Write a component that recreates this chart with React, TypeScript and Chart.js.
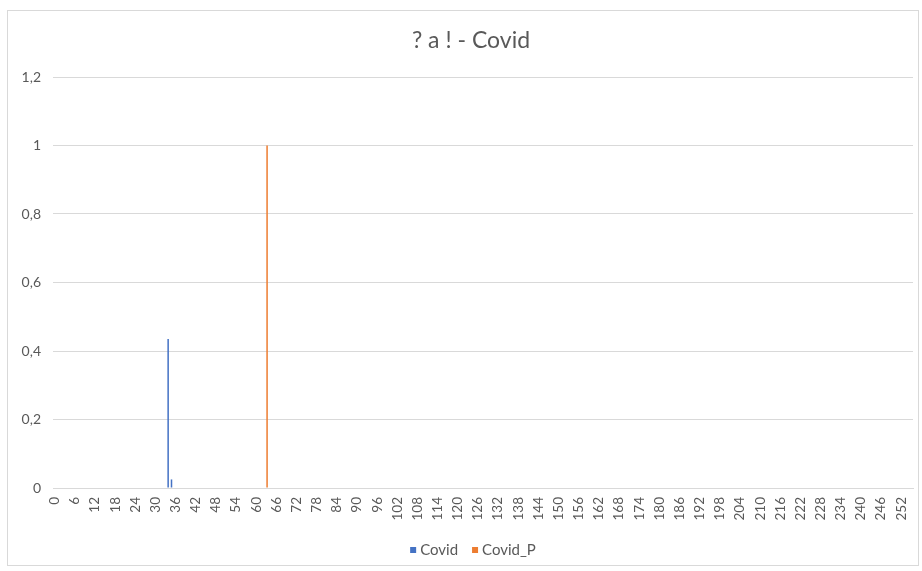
import React, { useEffect, useRef } from "react";
import { Chart, registerables } from "chart.js";

Chart.register(...registerables);

// Day index categories 0..255
const CATEGORY_COUNT = 256;
const categories: string[] = Array.from({ length: CATEGORY_COUNT }, (_, i) => String(i));

// Non-zero observations: [category index, value]
const covidPoints: [number, number][] = [
  [34, 0.435],
  [35, 0.025],
];
const covidPPoints: [number, number][] = [[63, 1]];

const yTicks = [0, 0.2, 0.4, 0.6, 0.8, 1, 1.2];
const labelStep = 6;

const titleText = "? a ! - Covid";
const seriesNames = ["Covid", "Covid_P"];
const seriesColors = ["#4472C4", "#ED7D31"];

function toSeries(points: [number, number][]): (number | null)[] {
  const out: (number | null)[] = categories.map(() => null);
  points.forEach(([i, v]) => {
    out[i] = v;
  });
  return out;
}

const FONT = "Lato, 'Open Sans', sans-serif";
const TEXT = "#595959";
const GRID = "#D9D9D9";

// Title and legend laid out over the plot area, Office style
const officeDecor = {
  id: "officeDecor",
  afterDraw(chart: any) {
    const { ctx } = chart;
    ctx.save();
    ctx.fillStyle = TEXT;
    ctx.font = `23px ${FONT}`;
    ctx.textAlign = "center";
    ctx.textBaseline = "alphabetic";
    ctx.fillText(titleText, 471, 48);

    // legend row
    ctx.font = `15px ${FONT}`;
    ctx.textBaseline = "middle";
    ctx.textAlign = "left";
    const box = 6;
    const gap = 4;
    const itemGap = 14;
    const items = chart.data.datasets.map((d: any) => ({
      label: d.label as string,
      color: d.backgroundColor as string,
      w: box + gap + ctx.measureText(d.label).width,
    }));
    const total = items.reduce((s: number, it: any) => s + it.w, 0) + itemGap * (items.length - 1);
    let x = 473 - total / 2;
    const y = 550;
    items.forEach((it: any) => {
      ctx.fillStyle = it.color;
      ctx.fillRect(x, y - box / 2, box, box);
      ctx.fillStyle = TEXT;
      ctx.fillText(it.label, x + box + gap, y);
      x += it.w + itemGap;
    });
    ctx.restore();
  },
};

export default function App() {
  const ref = useRef<HTMLCanvasElement | null>(null);

  useEffect(() => {
    if (!ref.current) return;
    const chart = new Chart(ref.current, {
      type: "bar",
      data: {
        labels: categories,
        datasets: [
          {
            label: seriesNames[0],
            data: toSeries(covidPoints),
            backgroundColor: seriesColors[0],
            borderWidth: 0,
            barPercentage: 1,
            categoryPercentage: 0.9,
          },
          {
            label: seriesNames[1],
            data: toSeries(covidPPoints),
            backgroundColor: seriesColors[1],
            borderWidth: 0,
            barPercentage: 1,
            categoryPercentage: 0.9,
          },
        ],
      },
      plugins: [officeDecor],
      options: {
        animation: false,
        responsive: false,
        maintainAspectRatio: false,
        layout: { padding: { left: 0, right: 9, top: 77, bottom: 48 } },
        plugins: {
          title: { display: false },
          legend: { display: false },
          tooltip: { enabled: false },
        },
        scales: {
          x: {
            afterFit: (scale: any) => {
              scale.height = 35;
              scale.paddingLeft = 0;
              scale.paddingRight = 0;
            },
            grid: { display: false, drawTicks: false },
            border: { display: true, color: GRID, width: 1 },
            ticks: {
              autoSkip: false,
              maxRotation: 90,
              minRotation: 90,
              padding: 9,
              color: TEXT,
              font: { family: FONT, size: 13.5 },
              callback: (_v: any, idx: number) => (idx % labelStep === 0 ? categories[idx] : ""),
            },
          },
          y: {
            min: 0,
            max: 1.2,
            afterFit: (scale: any) => {
              scale.width = 53;
            },
            afterBuildTicks: (scale: any) => {
              scale.ticks = yTicks.map((v) => ({ value: v }));
            },
            grid: { color: GRID, drawTicks: false, lineWidth: 1 },
            border: { display: false },
            ticks: {
              padding: 12,
              color: TEXT,
              font: { family: FONT, size: 14 },
              callback: (v: any) => String(Number(Number(v).toFixed(1))).replace(".", ","),
            },
          },
        },
      },
    });
    return () => chart.destroy();
  }, []);

  return (
    <div style={{ position: "fixed", left: 0, top: 0, width: 922, height: 571, background: "#fff" }}>
      <canvas ref={ref} width={922} height={571} style={{ position: "absolute", left: 0, top: 0 }} />
      <div
        style={{
          position: "absolute",
          left: 7,
          top: 10,
          width: 912,
          height: 556,
          border: "1px solid #D9D9D9",
          boxSizing: "border-box",
          pointerEvents: "none",
        }}
      />
    </div>
  );
}
